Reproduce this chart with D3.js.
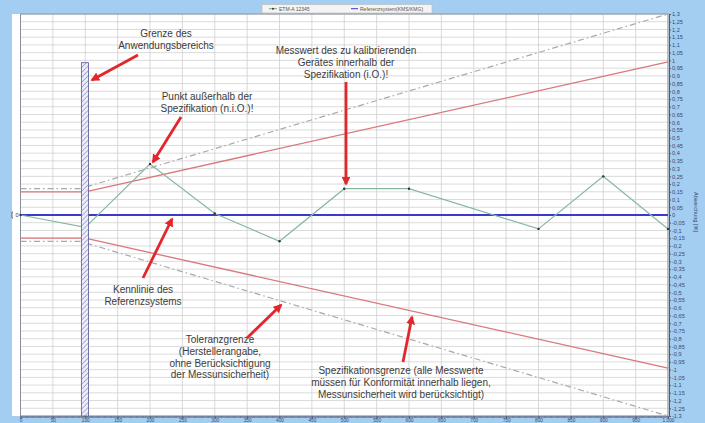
<!DOCTYPE html>
<html>
<head>
<meta charset="utf-8">
<script src="https://cdn.jsdelivr.net/npm/d3@7"></script>
<style>
  body { margin: 0; background: #a4cdf2; }
  svg { display: block; font-family: "Liberation Sans", Arial, sans-serif; }
</style>
</head>
<body>
<svg id="chart" width="705" height="423"></svg>
<script>
// Messwerte und Grenzen
const messX = [0, 100, 200, 300, 400, 500, 600, 800, 900, 1000];
const messY = [0, -0.08, 0.33, 0.01, -0.17, 0.17, 0.17, -0.09, 0.25, -0.09];

const refX = [0, 1000];
const refY = [0, 0];

const specX = [0, 100, 100, 1000];
const specY = [0.15, 0.15, 0.15, 0.99];

const tolX = [0, 100, 100, 1000];
const tolY = [0.17, 0.17, 0.18, 1.31];

const bereich = { x0: 94, x1: 105, top: 0.985 };

const yTicks = d3.range(-26, 27).map(d => d * 0.05);
const xTicks = d3.range(0, 1001, 50);

const fmtY = v => {
  let s = (+v.toFixed(2)).toString().replace('.', ',');
  return s === '-0' ? '0' : s;
};
const fmtX = v => v === 1000 ? '1.000' : String(v);

const svg = d3.select('#chart');

const x = d3.scaleLinear().domain([0, 1000]).range([20.5, 668]);
const y = d3.scaleLinear().domain([-1.3, 1.3]).range([416, 14]);

// white panel
svg.append('rect').attr('x', 12).attr('y', 14).attr('width', 657).attr('height', 402).attr('fill', '#fff');

// grid
const grid = svg.append('g');
grid.selectAll('.h').data(yTicks).join('line')
  .attr('x1', 20.5).attr('x2', 668)
  .attr('y1', d => y(d)).attr('y2', d => y(d))
  .attr('stroke', '#d2d2d2').attr('stroke-width', 0.8);
grid.selectAll('.v').data(xTicks).join('line')
  .attr('x1', d => x(d)).attr('x2', d => x(d))
  .attr('y1', 14).attr('y2', 416)
  .attr('stroke', '#cfcfcf').attr('stroke-width', 0.8);

// frame
svg.append('rect').attr('x', 20.5).attr('y', 14).attr('width', 647.5).attr('height', 402)
  .attr('fill', 'none').attr('stroke', '#8a8f9a').attr('stroke-width', 1);

const line = d3.line().x(d => x(d[0])).y(d => y(d[1]));

// spec lines
const spec = specX.map((v, i) => [v, specY[i]]);
const specLo = specX.map((v, i) => [v, -specY[i]]);
[spec, specLo].forEach(p => svg.append('path').attr('d', line(p))
  .attr('fill', 'none').attr('stroke', '#d9787a').attr('stroke-width', 1.3));

// tolerance lines
const tol = tolX.map((v, i) => [v, Math.min(tolY[i], 1.3)]);
const tolLo = tolX.map((v, i) => [v, -Math.min(tolY[i], 1.3)]);
[tol, tolLo].forEach(p => svg.append('path').attr('d', line(p))
  .attr('fill', 'none').attr('stroke', '#a9a9a9').attr('stroke-width', 1.2)
  .attr('stroke-dasharray', '6,3,1.5,3'));

// reference
svg.append('path').attr('d', line(refX.map((v, i) => [v, refY[i]])))
  .attr('fill', 'none').attr('stroke', '#3a3acc').attr('stroke-width', 2);

// measurement
const mess = messX.map((v, i) => [v, messY[i]]);
svg.append('path').attr('d', line(mess))
  .attr('fill', 'none').attr('stroke', '#86b8a0').attr('stroke-width', 1.2);
svg.selectAll('.pt').data(mess).join('circle')
  .attr('cx', d => x(d[0])).attr('cy', d => y(d[1])).attr('r', 1.2).attr('fill', '#333');

// hatched bar (Anwendungsbereich)
const defs = svg.append('defs');
const pat = defs.append('pattern').attr('id', 'hatch').attr('patternUnits', 'userSpaceOnUse')
  .attr('width', 3.5).attr('height', 3.5).attr('patternTransform', 'rotate(45)');
pat.append('rect').attr('width', 3.5).attr('height', 3.5).attr('fill', '#eeeef8');
pat.append('line').attr('x1', 0).attr('y1', 0).attr('x2', 0).attr('y2', 3.5)
  .attr('stroke', '#7676bc').attr('stroke-width', 1.1);
svg.append('rect')
  .attr('x', x(bereich.x0)).attr('width', x(bereich.x1) - x(bereich.x0))
  .attr('y', y(bereich.top)).attr('height', y(-1.3) - y(bereich.top))
  .attr('fill', 'url(#hatch)').attr('stroke', '#55558f').attr('stroke-width', 0.8);

// right axis
const yAxis = d3.axisRight(y).tickValues(yTicks).tickFormat(fmtY).tickSize(2);
const ya = svg.append('g').attr('transform', 'translate(669,0)').call(yAxis);
ya.select('.domain').attr('stroke', '#4a5a7a');
ya.selectAll('line').attr('stroke', '#4a5a7a');
ya.selectAll('text').attr('font-size', 5.6).attr('fill', '#3a4a6a').attr('x', 3);

// bottom axis
const xAxis = d3.axisBottom(x).tickValues(xTicks).tickFormat(fmtX).tickSize(2);
const xa = svg.append('g').attr('transform', 'translate(0,416.5)').call(xAxis);
xa.select('.domain').attr('stroke', '#4a5a7a');
xa.selectAll('line').attr('stroke', '#4a5a7a');
xa.selectAll('text').attr('font-size', 4.8).attr('fill', '#3a4a6a').attr('dy', '0.5em').attr('y', 3.4);
xa.selectAll('.minor').data(d3.range(0, 1001, 10)).join('line')
  .attr('x1', d => x(d)).attr('x2', d => x(d)).attr('y1', 0).attr('y2', 1.2)
  .attr('stroke', '#4a5a7a').attr('stroke-width', 0.6);

// left zero label
svg.append('text').attr('x', 17).attr('y', y(0)).attr('dy', '0.35em')
  .attr('font-size', 5.5).attr('text-anchor', 'middle').attr('fill', '#333').text('0');
svg.append('path').attr('d', `M13,${y(0) - 3} h-1 v6 h1`).attr('fill', 'none').attr('stroke', '#333').attr('stroke-width', 0.7);

// right axis title
svg.append('text').attr('transform', `translate(694,212) rotate(90)`)
  .attr('text-anchor', 'middle').attr('font-size', 5.6).attr('fill', '#3a4a6a')
  .text('Abweichung [%]');

// legend
const lg = svg.append('g');
lg.append('rect').attr('x', 262).attr('y', 4.5).attr('width', 170).attr('height', 8.5)
  .attr('fill', '#f4f4f4').attr('stroke', '#b8b8b8').attr('stroke-width', 0.6);
lg.append('line').attr('x1', 269).attr('x2', 277).attr('y1', 8.7).attr('y2', 8.7).attr('stroke', '#6a8a7a').attr('stroke-width', 0.8);
lg.append('circle').attr('cx', 273).attr('cy', 8.7).attr('r', 1).attr('fill', '#333');
lg.append('text').attr('x', 279).attr('y', 10.5).attr('font-size', 5).attr('fill', '#555').text('ETM-A 12345');
lg.append('line').attr('x1', 351).attr('x2', 358).attr('y1', 8.7).attr('y2', 8.7).attr('stroke', '#3a3acc').attr('stroke-width', 1);
lg.append('text').attr('x', 360).attr('y', 10.5).attr('font-size', 5).attr('fill', '#555').text('Referenzsystem(KMS/KMG)');

// annotations
defs.append('marker').attr('id', 'arr').attr('viewBox', '0 0 10 10')
  .attr('refX', 8).attr('refY', 5).attr('markerWidth', 3.2).attr('markerHeight', 3.2)
  .attr('orient', 'auto').attr('markerUnits', 'strokeWidth')
  .append('path').attr('d', 'M0,0 L10,5 L0,10 z').attr('fill', '#e3262b');

const notes = [
  { cx: 166, y0: 37, lines: ['Grenze des', 'Anwendungsbereichs'], arrow: [138, 55, 92, 80] },
  { cx: 207, y0: 100, lines: ['Punkt außerhalb der', 'Spezifikation (n.i.O.)!'], arrow: [181, 117, 153, 162] },
  { cx: 346, y0: 54, lines: ['Messwert des zu kalibrierenden', 'Gerätes innerhalb der', 'Spezifikation (i.O.)!'], arrow: [346, 82, 346, 184] },
  { cx: 143, y0: 293, lines: ['Kennlinie des', 'Referenzsystems'], arrow: [143, 278, 172, 219] },
  { cx: 220, y0: 343, lines: ['Toleranzgrenze', '(Herstellerangabe,', 'ohne Berücksichtigung', 'der Messunsicherheit)'], arrow: [247, 338, 281, 305] },
  { cx: 401, y0: 374, lines: ['Spezifikationsgrenze (alle Messwerte', 'müssen für Konformität innerhalb liegen,', 'Messunsicherheit wird berücksichtigt)'], arrow: [403, 362, 412, 317] }
];

notes.forEach(n => {
  const t = svg.append('text').attr('text-anchor', 'middle').attr('font-size', 10).attr('fill', '#3c3c3c');
  n.lines.forEach((s, i) => t.append('tspan').attr('x', n.cx).attr('y', n.y0 + i * 11.8).text(s));
  svg.append('line').attr('x1', n.arrow[0]).attr('y1', n.arrow[1]).attr('x2', n.arrow[2]).attr('y2', n.arrow[3])
    .attr('stroke', '#e3262b').attr('stroke-width', 2.8).attr('marker-end', 'url(#arr)');
});
</script>
</body>
</html>
